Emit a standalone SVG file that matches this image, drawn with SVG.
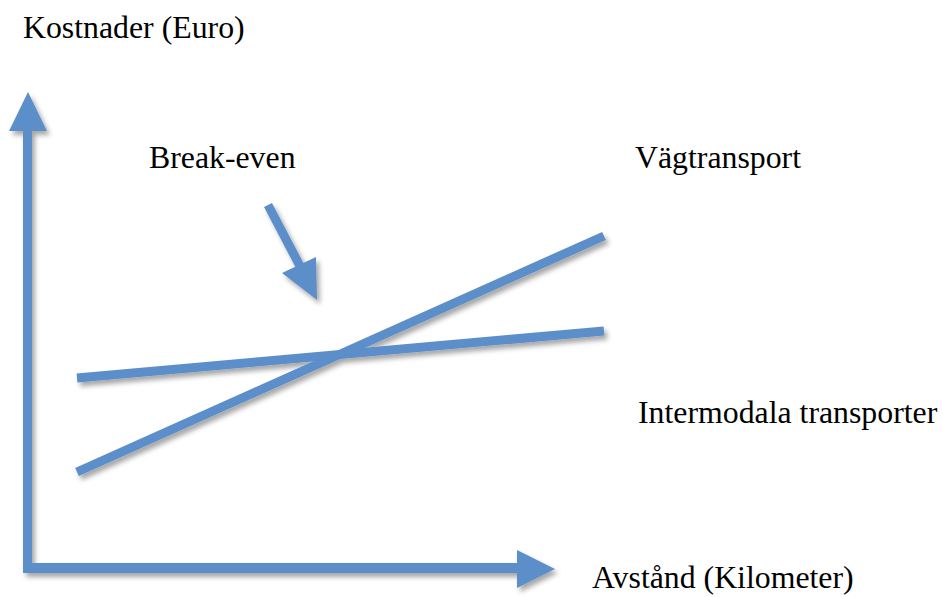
<svg xmlns="http://www.w3.org/2000/svg" width="943" height="597" viewBox="0 0 943 597">
<defs>
<filter id="sh" x="-20%" y="-20%" width="140%" height="140%">
<feDropShadow dx="3" dy="4" stdDeviation="2.5" flood-color="#000" flood-opacity="0.35"/>
</filter>
<style>
.ln{stroke:#5b8ec9;stroke-width:9;fill:none;stroke-linecap:butt}
.fl{fill:#5b8ec9}
.t{font-family:"Liberation Serif","Times New Roman",serif;font-size:31.8px;fill:#000}
</style>
</defs>
<rect width="943" height="597" fill="#fff"/>
<g id="connectors" filter="url(#sh)">
<g id="y-axis">
<rect class="fl" x="23" y="129" width="9" height="444"/>
<polygon class="fl" points="28,92 9,131 47,131"/>
</g>
<g id="x-axis">
<rect class="fl" x="23" y="563" width="496" height="10"/>
<polygon class="fl" points="517,550 555,569 517,588"/>
</g>
<g id="intermodal-line">
<line class="ln" x1="77" y1="378" x2="604" y2="331"/>
</g>
<g id="road-line">
<line class="ln" x1="77" y1="472" x2="604" y2="236"/>
</g>
<g id="break-even-arrow">
<line class="ln" x1="268" y1="205" x2="301" y2="268"/>
<polygon class="fl" points="282,273 316,257 317,300"/>
</g>
</g>
<g id="labels">
<text id="y-label" class="t" x="23" y="38">Kostnader (Euro)</text>
<text id="break-even" class="t" x="149" y="168">Break-even</text>
<text id="road" class="t" x="635" y="168">Vägtransport</text>
<text id="intermodal" class="t" x="638" y="423">Intermodala transporter</text>
<text id="x-label" class="t" x="592" y="588">Avstånd (Kilometer)</text>
</g>
</svg>
